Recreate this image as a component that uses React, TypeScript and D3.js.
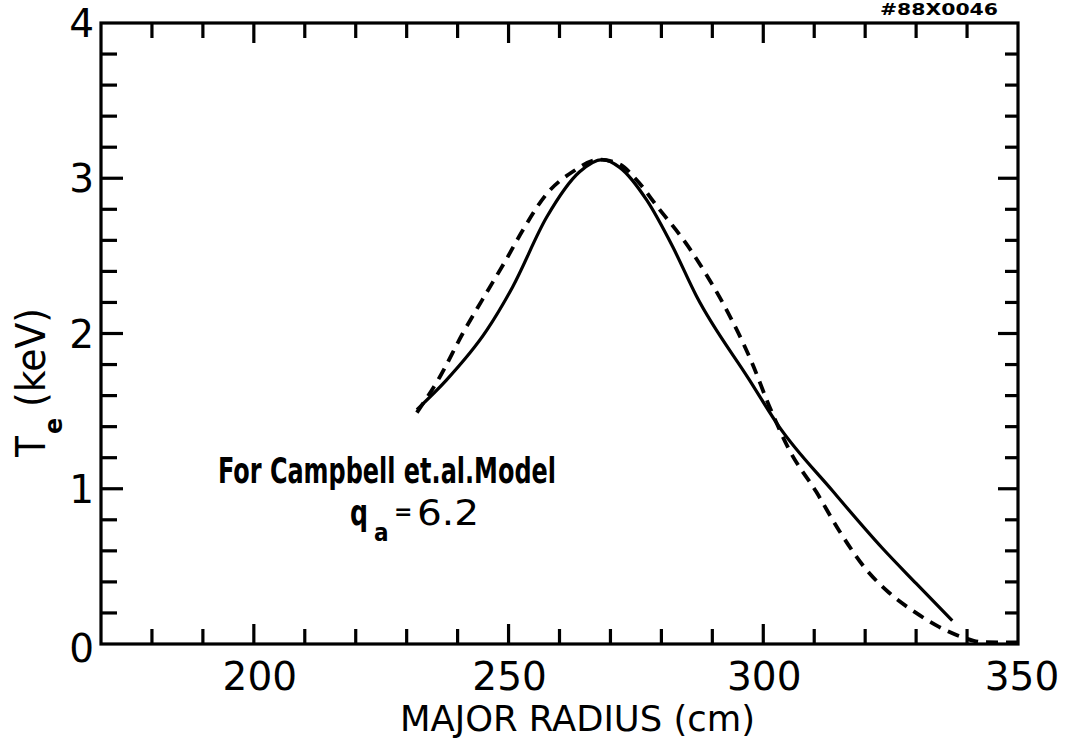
import React from "react";
import * as d3 from "d3";

// ---- data ----
const solidR = [232, 237.8, 245.7, 250.8, 257.5, 263.9, 268.4, 271.8, 277.1, 282.2, 286.9, 297.3, 303.1, 313.5, 323.3, 330.0, 337.1];
const solidTe = [1.51, 1.70, 2.02, 2.30, 2.75, 3.04, 3.12, 3.07, 2.86, 2.56, 2.24, 1.70, 1.40, 0.99, 0.62, 0.39, 0.15];

const dashedR = [232, 236.5, 241, 244.9, 249.6, 252.7, 257.5, 262.5, 267.8, 271.8, 275.1, 279.6, 283.5, 286.1, 288.8, 292.0, 297.8, 301.2, 305.1, 310.4, 314.9, 320.2, 324.7, 330.0, 334.5, 339.0, 343, 350];
const dashedTe = [1.49, 1.72, 2.0, 2.22, 2.48, 2.66, 2.90, 3.04, 3.12, 3.09, 2.99, 2.80, 2.64, 2.52, 2.38, 2.20, 1.81, 1.53, 1.25, 0.98, 0.73, 0.48, 0.33, 0.20, 0.11, 0.045, 0.012, 0.01];

const xDomain = [170, 350];
const yDomain = [0, 4];
const xMinorTicks = [180, 190, 200, 210, 220, 230, 240, 250, 260, 270, 280, 290, 300, 310, 320, 330, 340];
const xMajorTicks = [200, 250, 300];
const xTickLabels = [200, 250, 300, 350];
const yMinorTicks = [0.2, 0.4, 0.6, 0.8, 1, 1.2, 1.4, 1.6, 1.8, 2, 2.2, 2.4, 2.6, 2.8, 3, 3.2, 3.4, 3.6, 3.8];
const yMajorTicks = [1, 2, 3];
const yTickLabels = [0, 1, 2, 3, 4];

const W = 1071;
const H = 743;
const L = 101, R = 1018, T = 23, B = 644;

export default function App() {
  const x = d3.scaleLinear().domain(xDomain).range([L, R]);
  const y = d3.scaleLinear().domain(yDomain).range([B, T]);
  const line = d3
    .line<[number, number]>()
    .x((d) => x(d[0]))
    .y((d) => y(d[1]))
    .curve(d3.curveMonotoneX);
  const solidPath = line(solidR.map((r, i) => [r, solidTe[i]]) as [number, number][]) || "";
  const dashedPath = line(dashedR.map((r, i) => [r, dashedTe[i]]) as [number, number][]) || "";

  const font = "'DejaVu Sans', 'Liberation Sans', sans-serif";
  const condensed = "'DejaVu Sans Condensed', 'DejaVu Sans', 'Liberation Sans', sans-serif";
  const sw = 3.2;

  return (
    <svg
      width={W}
      height={H}
      viewBox={`0 0 ${W} ${H}`}
      style={{ position: "absolute", left: 0, top: 0, background: "#fff" }}
    >
      <rect x={0} y={0} width={W} height={H} fill="#fff" />
      {/* frame */}
      <rect x={L} y={T} width={R - L} height={B - T} fill="none" stroke="#000" strokeWidth={sw} />

      {/* x ticks bottom & top */}
      {xMinorTicks.map((v) => {
        const major = xMajorTicks.includes(v);
        const len = major ? 20 : 15;
        return (
          <g key={"xt" + v}>
            <line x1={x(v)} x2={x(v)} y1={B} y2={B - len} stroke="#000" strokeWidth={sw} />
            <line x1={x(v)} x2={x(v)} y1={T} y2={T + len} stroke="#000" strokeWidth={sw} />
          </g>
        );
      })}
      {/* y ticks left & right */}
      {yMinorTicks.map((v) => {
        const major = yMajorTicks.includes(v);
        const lenL = major ? 22 : 16;
        const lenR = major ? 20 : 13;
        return (
          <g key={"yt" + v}>
            <line x1={L} x2={L + lenL} y1={y(v)} y2={y(v)} stroke="#000" strokeWidth={sw} />
            <line x1={R} x2={R - lenR} y1={y(v)} y2={y(v)} stroke="#000" strokeWidth={sw} />
          </g>
        );
      })}

      {/* x tick labels */}
      {xTickLabels.map((v) => (
        <text
          key={"xl" + v}
          x={x(v) + (v === 200 ? 6 : v === 350 ? 4 : 1)}
          y={690}
          textAnchor="middle"
          fontFamily={font}
          fontSize={39}
          fill="#000"
        >
          {v}
        </text>
      ))}
      {/* y tick labels */}
      {yTickLabels.map((v) => (
        <text
          key={"yl" + v}
          x={94}
          y={y(v) + 14 + (v === 0 ? 4 : 0)}
          textAnchor="end"
          fontFamily={font}
          fontSize={39}
          fill="#000"
        >
          {v}
        </text>
      ))}

      {/* axis titles */}
      <text x={400} y={731} fontFamily={font} fontSize={36} textLength={355} lengthAdjust="spacingAndGlyphs" fill="#000">
        MAJOR RADIUS (cm)
      </text>
      <g transform="translate(45,457) rotate(-90)">
        <text x={0} y={0} fontFamily={font} fontSize={40} textLength={21} lengthAdjust="spacingAndGlyphs" fill="#000">
          T
        </text>
        <text x={23} y={17} fontFamily={font} fontSize={24} fontWeight="bold" fill="#000">
          e
        </text>
        <text x={50} y={0} fontFamily={font} fontSize={40} textLength={99} lengthAdjust="spacingAndGlyphs" fill="#000">
          (keV)
        </text>
      </g>

      {/* curves */}
      <path d={dashedPath} fill="none" stroke="#000" strokeWidth={3.8} strokeDasharray="12,8" />
      <path d={solidPath} fill="none" stroke="#000" strokeWidth={3.2} />

      {/* annotation */}
      <text x={218} y={483} fontFamily={condensed} fontSize={36} fontWeight="bold" textLength={338} lengthAdjust="spacingAndGlyphs" fill="#000">
        For Campbell et.al.Model
      </text>
      <text x={350} y={525} fontFamily={condensed} fontSize={36} fontWeight="bold" textLength={18} lengthAdjust="spacingAndGlyphs" fill="#000">
        q
      </text>
      <text x={374} y={541} fontFamily={condensed} fontSize={24} fontWeight="bold" fill="#000">
        a
      </text>
      <text x={394} y={519} fontFamily={font} fontSize={22} fontWeight="bold" fill="#000">
        =
      </text>
      <text x={417} y={525} fontFamily={font} fontSize={36} textLength={62} lengthAdjust="spacingAndGlyphs" fill="#000">
        6.2
      </text>

      {/* figure id */}
      <text x={880} y={15} fontFamily={font} fontSize={16} fontWeight="bold" textLength={118} lengthAdjust="spacingAndGlyphs" fill="#000">
        #88X0046
      </text>
    </svg>
  );
}
